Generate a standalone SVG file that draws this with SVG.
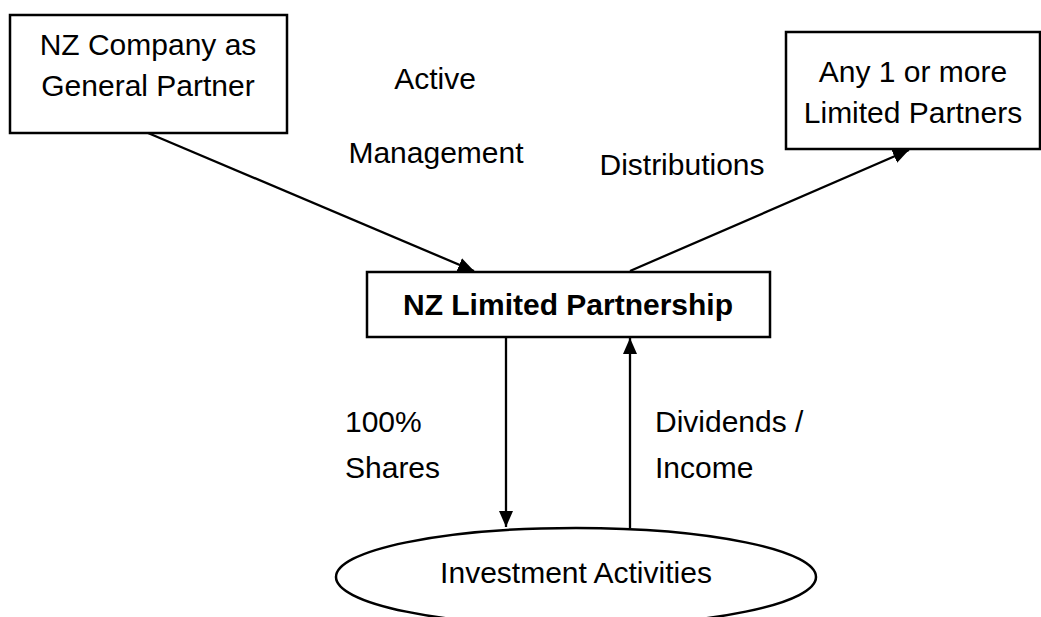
<svg xmlns="http://www.w3.org/2000/svg" width="1041" height="617" viewBox="0 0 1041 617">
<style>
.box{fill:#fff;stroke:#000;stroke-width:2.5}
.t{font-family:"Liberation Sans",Arial,sans-serif;font-size:30px;fill:#000}
.c{text-anchor:middle}
.b{font-weight:bold}
.ln{stroke:#000;stroke-width:2.3;fill:none}
</style>
<defs>
<marker id="ah" markerUnits="userSpaceOnUse" markerWidth="18" markerHeight="16" refX="16" refY="8" orient="auto">
<path d="M0,1 L16,8 L0,15 Z" fill="#000"/>
</marker>
</defs>
<rect width="1041" height="617" fill="#fff"/>
<g id="connectors">
<line class="ln" x1="148" y1="133" x2="474" y2="271" marker-end="url(#ah)"/>
<line class="ln" x1="630" y1="271" x2="909" y2="150" marker-end="url(#ah)"/>
<line class="ln" x1="506" y1="337" x2="506" y2="527" marker-end="url(#ah)"/>
<line class="ln" x1="630" y1="528" x2="630" y2="338" marker-end="url(#ah)"/>
<text class="t c" x="435" y="89">Active</text>
<text class="t c" x="436" y="163">Management</text>
<text class="t c" x="682" y="175">Distributions</text>
<text class="t" x="345" y="432">100%</text>
<text class="t" x="345" y="478">Shares</text>
<text class="t" x="655" y="432">Dividends /</text>
<text class="t" x="655" y="478">Income</text>
</g>
<g id="general-partner">
<rect class="box" x="10" y="15" width="277" height="118"/>
<text class="t c" x="148" y="55">NZ Company as</text>
<text class="t c" x="148" y="96">General Partner</text>
</g>
<g id="limited-partners">
<rect class="box" x="786" y="32" width="254" height="117"/>
<text class="t c" x="913" y="82">Any 1 or more</text>
<text class="t c" x="913" y="123">Limited Partners</text>
</g>
<g id="nz-lp">
<rect class="box" x="367" y="272" width="403" height="65"/>
<text class="t c b" x="568" y="315">NZ Limited Partnership</text>
</g>
<g id="investment-activities">
<ellipse class="box" cx="576" cy="577" rx="240" ry="49"/>
<text class="t c" x="576" y="583">Investment Activities</text>
</g>
</svg>
